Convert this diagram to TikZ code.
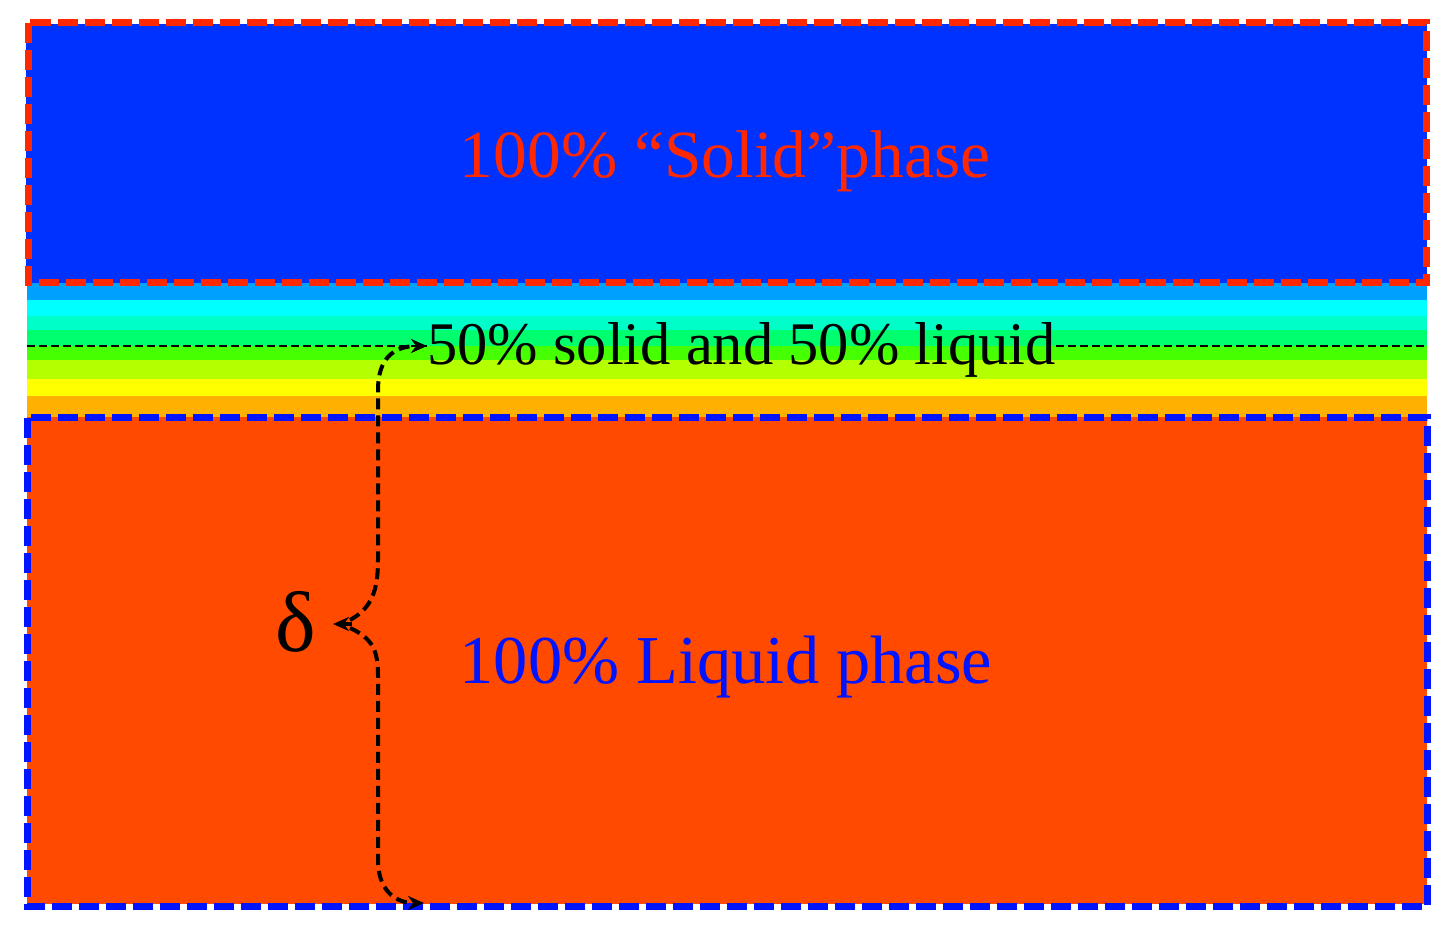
\documentclass[tikz,border=0pt]{standalone}
\usepackage{fontspec}
\setmainfont{Liberation Serif}
\usetikzlibrary{arrows.meta}
\definecolor{solidblue}{RGB}{0,50,255}
\definecolor{framered}{RGB}{255,40,0}
\definecolor{liquidred}{RGB}{255,74,0}
\definecolor{frameblue}{RGB}{0,20,255}
\definecolor{bA}{RGB}{0,160,255}
\definecolor{bB}{RGB}{0,255,255}
\definecolor{bC}{RGB}{0,255,200}
\definecolor{bD}{RGB}{0,255,110}
\definecolor{bE}{RGB}{70,255,0}
\definecolor{bF}{RGB}{180,255,0}
\definecolor{bG}{RGB}{255,255,0}
\definecolor{bH}{RGB}{255,176,0}
\tikzset{
  framedash/.style={line width=7pt, dash pattern=on 20pt off 7pt},
  midline/.style={line width=2pt, dash pattern=on 8pt off 4pt, black},
  bracecurve/.style={line width=4pt, dash pattern=on 11pt off 6pt, black, -{Stealth[length=16pt,width=14pt]}},
  lbl/.style={inner sep=0pt, anchor=base}
}
\begin{document}
\begin{tikzpicture}[x=1pt,y=-1pt]
\useasboundingbox (0,0) rectangle (1451,930);
% solid region
\fill[solidblue] (26,24) rectangle (1427,283);
% bands
\fill[bA] (27,283) rectangle (1427,300);
\fill[bB] (27,300) rectangle (1427,316);
\fill[bC] (27,316) rectangle (1427,330);
\fill[bD] (27,330) rectangle (1427,346);
\fill[bE] (27,346) rectangle (1427,360);
\fill[bF] (27,360) rectangle (1427,379);
\fill[bG] (27,379) rectangle (1427,396);
\fill[bH] (27,396) rectangle (1427,417);
% liquid region
\fill[liquidred] (27,417) rectangle (1427,904);
% frames
\draw[framedash, framered] (28.5,22.5) rectangle (1426.5,282.5);
\draw[framedash, frameblue] (27,417.5) rectangle (1427,906);
% labels
\node[lbl, text=framered, font=\fontsize{67.5}{80}\selectfont] (solid) at (725,177) {100\% “Solid”phase};
\node[lbl, text=frameblue, font=\fontsize{68.5}{80}\selectfont] (liquid) at (726,683) {100\% Liquid phase};
\node[inner sep=0pt, anchor=base west, font=\fontsize{60.5}{72}\selectfont] (mid) at (427,364) {50\% solid and 50\% liquid};
\node[lbl, font=\fontsize{86}{96}\selectfont] (delta) at (296,651) {δ};
% coordinates
\coordinate (lineL) at (27,346);
\coordinate (lineR) at (1427,346);
\coordinate (tipM) at (mid.west |- lineL);
\coordinate (tipB) at (424,903);
\coordinate (tipD) at (333,624);
% mid dashed line
\draw[midline] (lineL) -- (tipM);
\draw[midline] (mid.east |- lineR) -- (lineR);
% brace arrows
\draw[bracecurve] (350,620) .. controls (372,608) and (378,590) .. (378,560) -- (378,390) .. controls (378,360) and (392,346) .. (tipM);
\draw[bracecurve] (350,628) .. controls (372,638) and (378,650) .. (378,675) -- (378,860) .. controls (378,890) and (395,903) .. (tipB);
\draw[line width=4pt, -{Stealth[length=16pt,width=14pt]}] (352,624) -- (tipD);
\end{tikzpicture}
\end{document}
